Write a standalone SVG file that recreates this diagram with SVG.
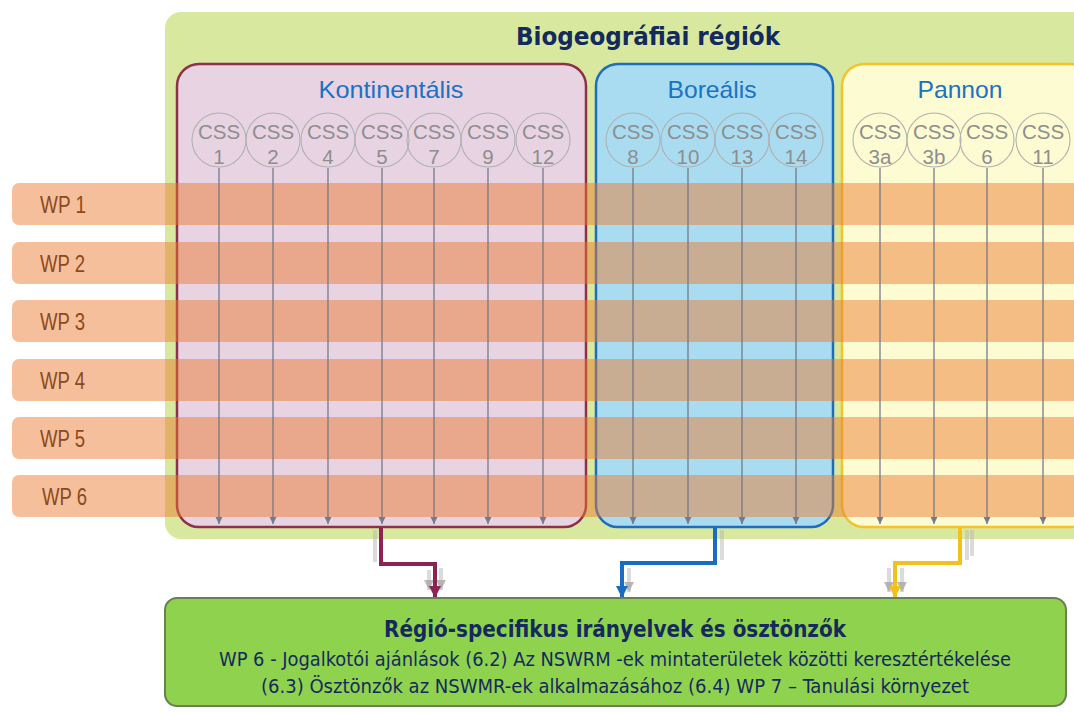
<svg xmlns="http://www.w3.org/2000/svg" width="1074" height="713" viewBox="0 0 1074 713">
<style>
.circ{fill:none;stroke:#b0b0b0;stroke-width:1.1}
.css{font-family:"Liberation Sans",Arial,sans-serif;font-size:20.5px;fill:#8e8e8e;text-anchor:middle}
.reg{font-family:"Liberation Sans",Arial,sans-serif;font-size:24px;fill:#1a72c2;text-anchor:middle}
.band{fill:#ea7a2f;fill-opacity:0.48}
.wp{font-family:"Liberation Sans Narrow","Liberation Sans",Arial,sans-serif;font-size:24px;fill:#8c4a1c}
.thin{stroke:#6f7282;stroke-width:1.2;fill:none}
.ghost{stroke:#b8b8b8;stroke-opacity:0.5;fill:none}
.navy{fill:#152a5c;text-anchor:middle}
</style>
<defs>
<marker id="ah" markerUnits="userSpaceOnUse" markerWidth="8" markerHeight="8" refX="7" refY="4" orient="auto"><path d="M0,0.5 L7,4 L0,7.5 z" fill="#767a8c"/></marker>
<marker id="ahK" markerUnits="userSpaceOnUse" markerWidth="14" markerHeight="14" refX="12" refY="7" orient="auto"><path d="M0,1 L12,7 L0,13 z" fill="#8c2352"/></marker>
<marker id="ahB" markerUnits="userSpaceOnUse" markerWidth="14" markerHeight="14" refX="12" refY="7" orient="auto"><path d="M0,1 L12,7 L0,13 z" fill="#1a6cc0"/></marker>
<marker id="ahP" markerUnits="userSpaceOnUse" markerWidth="14" markerHeight="14" refX="12" refY="7" orient="auto"><path d="M0,1 L12,7 L0,13 z" fill="#f2c11e"/></marker>
<marker id="ahG" markerUnits="userSpaceOnUse" markerWidth="12" markerHeight="12" refX="10" refY="6" orient="auto"><path d="M0,1 L10,6 L0,11 z" fill="#a8a8a8" fill-opacity="0.8"/></marker>
</defs>

<g id="biogeo">
<rect x="165" y="12" width="930" height="527" rx="16" fill="#d8e99f"/>
<text x="648" y="45" class="navy" font-family="DejaVu Sans,Verdana,sans-serif" font-weight="bold" font-size="25" textLength="264" lengthAdjust="spacingAndGlyphs">Biogeográfiai régiók</text>
</g>

<g id="kontinentalis">
<rect x="177" y="64" width="409" height="463" rx="22" fill="#e8d3e3" stroke="#8e3048" stroke-width="2.5"/>
<text x="391" y="98" class="reg" textLength="145" lengthAdjust="spacingAndGlyphs">Kontinentális</text>
</g>
<g id="borealis">
<rect x="596" y="64" width="237" height="463" rx="22" fill="#a9dcf0" stroke="#1e6cc0" stroke-width="2.5"/>
<text x="712" y="98" class="reg" textLength="89" lengthAdjust="spacingAndGlyphs">Boreális</text>
</g>
<g id="pannon">
<rect x="842" y="64" width="250" height="463" rx="22" fill="#fcfbd2" stroke="#f2c42a" stroke-width="2.5"/>
<text x="960" y="98" class="reg" textLength="85" lengthAdjust="spacingAndGlyphs">Pannon</text>
</g>

<g id="css-1"><circle cx="219" cy="140" r="27" class="circ"/><text x="219" y="139" class="css">CSS</text><text x="219" y="164" class="css">1</text></g>
<g id="css-2"><circle cx="273" cy="140" r="27" class="circ"/><text x="273" y="139" class="css">CSS</text><text x="273" y="164" class="css">2</text></g>
<g id="css-4"><circle cx="328" cy="140" r="27" class="circ"/><text x="328" y="139" class="css">CSS</text><text x="328" y="164" class="css">4</text></g>
<g id="css-5"><circle cx="382" cy="140" r="27" class="circ"/><text x="382" y="139" class="css">CSS</text><text x="382" y="164" class="css">5</text></g>
<g id="css-7"><circle cx="434" cy="140" r="27" class="circ"/><text x="434" y="139" class="css">CSS</text><text x="434" y="164" class="css">7</text></g>
<g id="css-9"><circle cx="488" cy="140" r="27" class="circ"/><text x="488" y="139" class="css">CSS</text><text x="488" y="164" class="css">9</text></g>
<g id="css-12"><circle cx="543" cy="140" r="27" class="circ"/><text x="543" y="139" class="css">CSS</text><text x="543" y="164" class="css">12</text></g>
<g id="css-8"><circle cx="633" cy="140" r="27" class="circ"/><text x="633" y="139" class="css">CSS</text><text x="633" y="164" class="css">8</text></g>
<g id="css-10"><circle cx="688" cy="140" r="27" class="circ"/><text x="688" y="139" class="css">CSS</text><text x="688" y="164" class="css">10</text></g>
<g id="css-13"><circle cx="742" cy="140" r="27" class="circ"/><text x="742" y="139" class="css">CSS</text><text x="742" y="164" class="css">13</text></g>
<g id="css-14"><circle cx="796" cy="140" r="27" class="circ"/><text x="796" y="139" class="css">CSS</text><text x="796" y="164" class="css">14</text></g>
<g id="css-3a"><circle cx="880" cy="140" r="27" class="circ"/><text x="880" y="139" class="css">CSS</text><text x="880" y="164" class="css">3a</text></g>
<g id="css-3b"><circle cx="934" cy="140" r="27" class="circ"/><text x="934" y="139" class="css">CSS</text><text x="934" y="164" class="css">3b</text></g>
<g id="css-6"><circle cx="987" cy="140" r="27" class="circ"/><text x="987" y="139" class="css">CSS</text><text x="987" y="164" class="css">6</text></g>
<g id="css-11"><circle cx="1043" cy="140" r="27" class="circ"/><text x="1043" y="139" class="css">CSS</text><text x="1043" y="164" class="css">11</text></g>

<g id="wp1"><rect x="12" y="183" width="1080" height="42" rx="7" class="band"/><text x="40" y="213" class="wp" textLength="46" lengthAdjust="spacingAndGlyphs">WP 1</text></g>
<g id="wp2"><rect x="12" y="242" width="1080" height="42" rx="7" class="band"/><text x="40" y="272" class="wp" textLength="45" lengthAdjust="spacingAndGlyphs">WP 2</text></g>
<g id="wp3"><rect x="12" y="300" width="1080" height="42" rx="7" class="band"/><text x="40" y="330" class="wp" textLength="45" lengthAdjust="spacingAndGlyphs">WP 3</text></g>
<g id="wp4"><rect x="12" y="359" width="1080" height="42" rx="7" class="band"/><text x="40" y="389" class="wp" textLength="45" lengthAdjust="spacingAndGlyphs">WP 4</text></g>
<g id="wp5"><rect x="12" y="417" width="1080" height="42" rx="7" class="band"/><text x="40" y="447" class="wp" textLength="45" lengthAdjust="spacingAndGlyphs">WP 5</text></g>
<g id="wp6"><rect x="12" y="475" width="1080" height="42" rx="7" class="band"/><text x="42" y="505" class="wp" textLength="45" lengthAdjust="spacingAndGlyphs">WP 6</text></g>

<g id="connectors">
<g class="thin" marker-end="url(#ah)">
<path d="M219,168 V524"/><path d="M273,168 V524"/><path d="M328,168 V524"/><path d="M382,168 V524"/><path d="M434,168 V524"/><path d="M488,168 V524"/><path d="M543,168 V524"/>
<path d="M633,168 V524"/><path d="M688,168 V524"/><path d="M742,168 V524"/><path d="M796,168 V524"/>
<path d="M880,168 V524"/><path d="M934,168 V524"/><path d="M987,168 V524"/><path d="M1043,168 V524"/>
</g>
<g class="ghost" stroke-width="4">
<path d="M375,530 V562"/><path d="M441,568 V590" marker-end="url(#ahG)"/><path d="M429,570 V590" marker-end="url(#ahG)"/>
<path d="M722,530 V560"/><path d="M629,568 V592" marker-end="url(#ahG)"/>
<path d="M967,530 V560"/><path d="M972,530 V556"/><path d="M889,568 V592" marker-end="url(#ahG)"/><path d="M902,568 V592" marker-end="url(#ahG)"/>
</g>
<path d="M381,528 V564 H435 V598" fill="none" stroke="#8c2352" stroke-width="4" marker-end="url(#ahK)"/>
<path d="M715,528 V563 H622 V598" fill="none" stroke="#1a6cc0" stroke-width="4" marker-end="url(#ahB)"/>
<path d="M960,528 V563 H895 V598" fill="none" stroke="#f2c11e" stroke-width="4" marker-end="url(#ahP)"/>
</g>

<g id="output">
<rect x="165" y="598" width="901" height="108" rx="12" fill="#8fd24e" stroke="#6b7f55" stroke-width="2"/>
<text x="615" y="637" class="navy" font-family="DejaVu Sans Condensed,DejaVu Sans,sans-serif" font-weight="bold" font-size="23" textLength="462" lengthAdjust="spacingAndGlyphs">Régió-specifikus irányelvek és ösztönzők</text>
<text x="615" y="666" class="navy" font-family="DejaVu Sans Condensed,DejaVu Sans,sans-serif" font-size="20" textLength="792" lengthAdjust="spacingAndGlyphs">WP 6 - Jogalkotói ajánlások (6.2) Az NSWRM -ek mintaterületek közötti keresztértékelése</text>
<text x="615" y="693" class="navy" font-family="DejaVu Sans Condensed,DejaVu Sans,sans-serif" font-size="20" textLength="708" lengthAdjust="spacingAndGlyphs">(6.3) Ösztönzők az NSWMR-ek alkalmazásához (6.4) WP 7 – Tanulási környezet</text>
</g>
</svg>
